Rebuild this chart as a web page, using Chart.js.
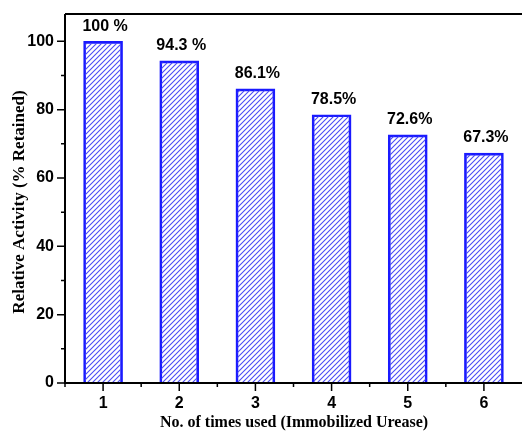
<!DOCTYPE html>
<html lang="en">
<head>
  <meta charset="UTF-8">
  <title>Reusability of Immobilized Urease</title>
  <script src="https://cdn.jsdelivr.net/npm/chart.js"></script>
  <style>
    html, body { margin: 0; padding: 0; background: #fff; }
    #wrap { width: 522px; height: 435px; }
  </style>
</head>
<body>
  <div id="wrap"><canvas id="activityChart" width="522" height="435"></canvas></div>

  <script>
    const uses = ["1", "2", "3", "4", "5", "6"];
    const activity = [100, 94.3, 86.1, 78.5, 72.6, 67.3];
    const valueLabels = ["100 %", "94.3 %", "86.1%", "78.5%", "72.6%", "67.3%"];
    const yTicks = [0, 20, 40, 60, 80, 100];
    const yMinorTicks = [10, 30, 50, 70, 90];

    // diagonal hatch fill for the bars
    function hatch() {
      const c = document.createElement("canvas");
      c.width = 5; c.height = 5;
      const g = c.getContext("2d");
      g.strokeStyle = "#4b4bf5";
      g.lineWidth = 1.1;
      g.beginPath();
      g.moveTo(0, 5); g.lineTo(5, 0);
      g.moveTo(-1, 1); g.lineTo(1, -1);
      g.moveTo(4, 6); g.lineTo(6, 4);
      g.stroke();
      return g.createPattern(c, "repeat");
    }

    // frame, ticks, tick labels and axis titles drawn from the chart's scales
    const axesPlugin = {
      id: "axesPlugin",
      afterDraw(chart) {
        const ctx = chart.ctx;
        const a = chart.chartArea;
        const x = chart.scales.x, y = chart.scales.y;
        ctx.save();
        ctx.strokeStyle = "#000";
        ctx.fillStyle = "#000";
        ctx.lineWidth = 2;
        ctx.beginPath();
        ctx.moveTo(a.left, a.top); ctx.lineTo(a.right, a.top);
        ctx.moveTo(a.left, a.top); ctx.lineTo(a.left, a.bottom);
        ctx.moveTo(a.left - 1, a.bottom); ctx.lineTo(a.right, a.bottom);
        ctx.stroke();

        ctx.lineWidth = 1.5;
        ctx.beginPath();
        yTicks.forEach(v => { const p = y.getPixelForValue(v); ctx.moveTo(a.left - 8, p); ctx.lineTo(a.left, p); });
        yMinorTicks.forEach(v => { const p = y.getPixelForValue(v); ctx.moveTo(a.left - 4, p); ctx.lineTo(a.left, p); });
        uses.forEach((u, i) => {
          const p = x.getPixelForValue(i);
          ctx.moveTo(p, a.bottom); ctx.lineTo(p, a.bottom + 8);
          const m = p - (x.getPixelForValue(1) - x.getPixelForValue(0)) / 2;
          ctx.moveTo(m, a.bottom); ctx.lineTo(m, a.bottom + 4);
        });
        ctx.stroke();

        ctx.font = "bold 16px 'Liberation Sans', Arial, sans-serif";
        ctx.textAlign = "right";
        ctx.textBaseline = "middle";
        yTicks.forEach(v => ctx.fillText(String(v), a.left - 11, y.getPixelForValue(v)));
        ctx.textAlign = "center";
        ctx.textBaseline = "top";
        uses.forEach((u, i) => ctx.fillText(u, x.getPixelForValue(i), a.bottom + 13));

        ctx.textBaseline = "middle";
        activity.forEach((v, i) => ctx.fillText(valueLabels[i], x.getPixelForValue(i) + 2, y.getPixelForValue(v) - 15));

        ctx.font = "bold 16px 'Liberation Serif', 'Times New Roman', serif";
        ctx.fillText("No. of times used (Immobilized Urease)", 294, 423);
        ctx.font = "bold 17px 'Liberation Serif', 'Times New Roman', serif";
        ctx.translate(20, 202);
        ctx.rotate(-Math.PI / 2);
        ctx.fillText("Relative Activity (% Retained)", 0, 0);
        ctx.restore();
      }
    };

    new Chart(document.getElementById("activityChart"), {
      type: "bar",
      data: {
        labels: uses,
        datasets: [{
          data: activity,
          backgroundColor: hatch(),
          borderColor: "#1a1aff",
          borderWidth: 2,
          barThickness: 39
        }]
      },
      options: {
        responsive: false,
        animation: false,
        layout: { padding: { left: 65, top: 14, right: 0, bottom: 52 } },
        plugins: { legend: { display: false }, tooltip: { enabled: false } },
        scales: {
          x: { display: false, offset: true },
          y: { display: false, min: 0, max: 108 }
        }
      },
      plugins: [axesPlugin]
    });
  </script>
</body>
</html>
